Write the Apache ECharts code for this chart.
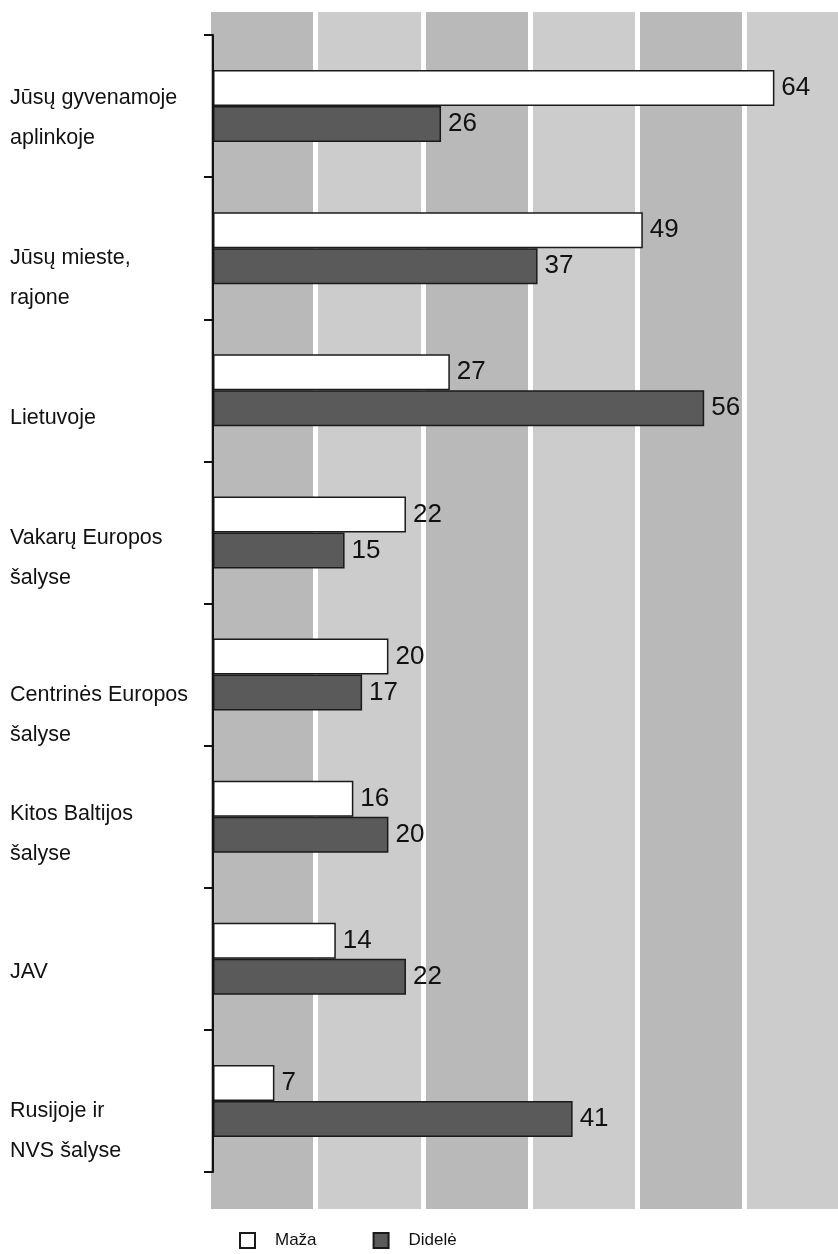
<!DOCTYPE html>
<html>
<head>
<meta charset="utf-8">
<script src="https://cdn.jsdelivr.net/npm/echarts@6/dist/echarts.min.js"></script>
<style>
html,body{margin:0;padding:0;background:#fff;}
#chart{width:838px;height:1254px;}
</style>
</head>
<body>
<div id="chart"></div>
<script>
var categories = [
  'Jūsų gyvenamoje\naplinkoje',
  'Jūsų mieste,\nrajone',
  'Lietuvoje',
  'Vakarų Europos\nšalyse',
  'Centrinės Europos\nšalyse',
  'Kitos Baltijos\nšalyse',
  'JAV',
  'Rusijoje ir\nNVS šalyse'
];
var seriesNames = ['Maža', 'Didelė'];
var mazaValues = [64, 49, 27, 22, 20, 16, 14, 7];
var dideleValues = [26, 37, 56, 15, 17, 20, 22, 41];

// style: vertical shift of each category label (px, downward)
var labelShift = [12, 30, 28, 26, 41, 17, 13, 30];

var FONT = '"Liberation Sans", Arial, Helvetica, sans-serif';

var rich = { t: { fontSize: 21.5, lineHeight: 40, color: '#111', fontFamily: FONT, align: 'left' } };
labelShift.forEach(function (s, i) {
  rich['g' + i] = { fontSize: 1, lineHeight: Math.max(1, 2 * s), align: 'left' };
});

var chart = echarts.init(document.getElementById('chart'), null, { renderer: 'canvas' });
chart.setOption({
  animation: false,
  backgroundColor: '#ffffff',
  textStyle: { fontFamily: FONT },
  legend: {
    data: seriesNames,
    left: 234,
    top: 1227,
    icon: 'rect',
    itemWidth: 15,
    itemHeight: 15,
    itemGap: 56,
    textStyle: { fontSize: 17, color: '#111', fontFamily: FONT, padding: [0, 0, 0, 15] }
  },
  grid: [
    { left: 208.5, right: 0, top: 12, bottom: 45, outerBoundsMode: 'none', containLabel: false },
    { left: 213, right: 11, top: 35, bottom: 82, outerBoundsMode: 'none', containLabel: false }
  ],
  xAxis: [
    {
      gridIndex: 0, type: 'value', min: 0, max: 5.87, interval: 1,
      axisLine: { show: false }, axisTick: { show: false }, axisLabel: { show: false },
      splitArea: { show: true, areaStyle: { color: ['#b9b9b9', '#cccccc'] } },
      splitLine: { show: true, showMinLine: true, showMaxLine: false, lineStyle: { color: '#ffffff', width: 5 } }
    },
    {
      gridIndex: 1, type: 'value', min: 0, max: 70,
      axisLine: { show: false }, axisTick: { show: false }, axisLabel: { show: false },
      splitLine: { show: false }
    }
  ],
  yAxis: [
    {
      gridIndex: 0, type: 'value', min: 0, max: 1, show: false
    },
    {
      gridIndex: 1, type: 'category', inverse: true, data: categories,
      axisLine: { show: true, onZero: false, lineStyle: { color: '#111', width: 2 } },
      axisTick: { show: true, length: 9, lineStyle: { color: '#111', width: 2 } },
      axisLabel: {
        align: 'left', margin: 203, fontSize: 21.5, lineHeight: 40,
        color: '#111', fontFamily: FONT,
        formatter: function (value, index) {
          var lines = value.split('\n').map(function (l) { return '{t|' + l + '}'; });
          return '{g' + index + '| }\n' + lines.join('\n');
        },
        rich: rich
      },
      z: 5
    }
  ],
  series: [
    {
      name: seriesNames[0], type: 'bar', xAxisIndex: 1, yAxisIndex: 1,
      data: mazaValues, barWidth: 36, barGap: '0%',
      itemStyle: { color: '#ffffff', borderColor: '#1a1a1a', borderWidth: 1.5 },
      label: { show: true, position: 'right', distance: 7, fontSize: 26, color: '#111', fontFamily: FONT }
    },
    {
      name: seriesNames[1], type: 'bar', xAxisIndex: 1, yAxisIndex: 1,
      data: dideleValues, barWidth: 36, barGap: '0%',
      itemStyle: { color: '#5a5a5a', borderColor: '#1a1a1a', borderWidth: 1.5 },
      label: { show: true, position: 'right', distance: 7, fontSize: 26, color: '#111', fontFamily: FONT }
    }
  ]
});
</script>
</body>
</html>
